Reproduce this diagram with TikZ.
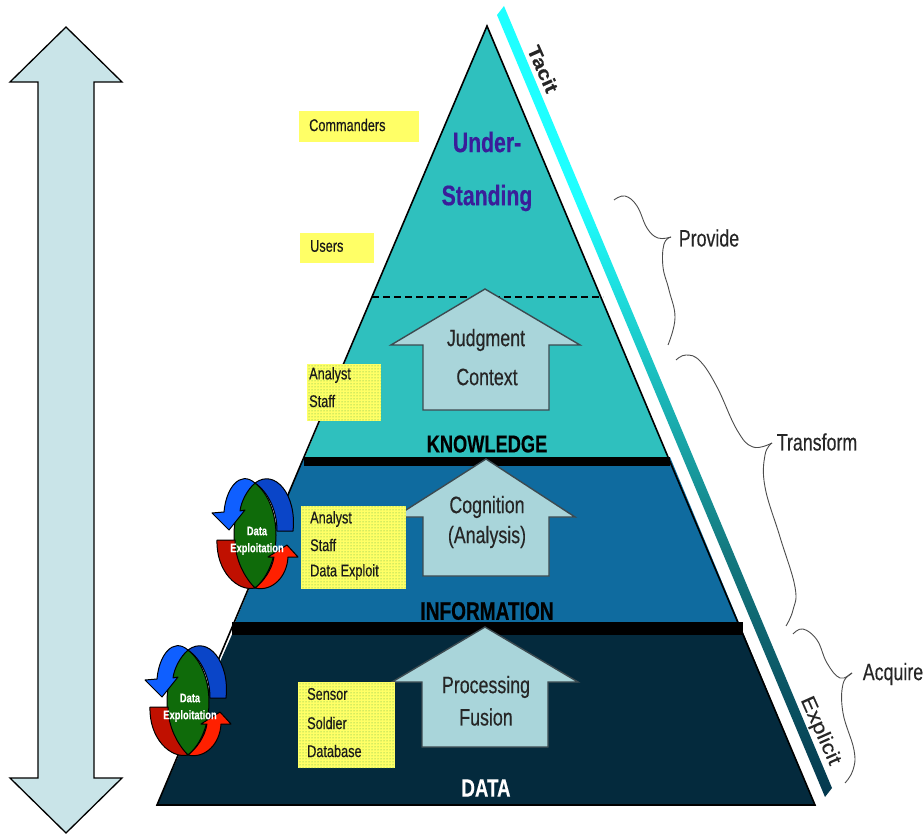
\documentclass[tikz,border=0pt]{standalone}
\usepackage{fontspec}
\setmainfont[FakeStretch=0.75,FakeBold=0.35]{Liberation Sans}
\newfontfamily\widefont[FakeStretch=1.15,FakeBold=0.25]{Liberation Sans}
\usetikzlibrary{patterns}
\definecolor{topT}{HTML}{2FC0BE}
\definecolor{midB}{HTML}{0F6B9F}
\definecolor{botD}{HTML}{042A3D}
\definecolor{pale}{HTML}{C9E4E8}
\definecolor{arrowF}{HTML}{A9D5DA}
\definecolor{arrowL}{HTML}{3C4A50}
\definecolor{yel}{HTML}{FFFF66}
\definecolor{bandA}{HTML}{1FFFFF}
\definecolor{bandB}{HTML}{1CC8C8}
\definecolor{bandC}{HTML}{147A80}
\definecolor{bandD}{HTML}{04384E}
\definecolor{underC}{HTML}{3A1E9A}
\definecolor{blueL}{HTML}{0F5FFF}
\definecolor{blueD}{HTML}{0A45C8}
\definecolor{redL}{HTML}{C01000}
\definecolor{redR}{HTML}{FF2000}
\definecolor{greenE}{HTML}{0F6B0A}
\pgfdeclareverticalshading{bandshade}{100bp}{color(0bp)=(bandD); color(25bp)=(bandD); color(40.6bp)=(bandC); color(53.3bp)=(bandB); color(62.7bp)=(bandA); color(100bp)=(bandA)}
\newcommand{\fs}[1]{\fontsize{\the\dimexpr #1pt*113/100\relax}{\the\dimexpr #1pt*113/100\relax}\selectfont}
\newcommand{\fw}[1]{\fontsize{#1}{#1}\selectfont}
\tikzset{
  blockarrow/.style={fill=arrowF,draw=arrowL,line width=1.4pt,line join=miter},
  lab/.style={inner sep=0pt,text=black!85},
  leftlab/.style={inner sep=0pt,anchor=west,text=black!90,font=\fs{15}},
  brace/.style={draw=black!70,line width=0.9pt},
  iconline/.style={draw=black,line width=1pt,line join=round},
}
\newcommand{\dotsbox}[4]{%
  \fill[yel] (#1,#2) rectangle (#3,#4);
  \fill[pattern=dots,pattern color=green!55!black!70] (#1,#2) rectangle (#3,#4);
}
\newcommand{\exicon}[1]{%
\begin{scope}[shift={#1}]
  \path[iconline,fill=greenE] (255,483) .. controls (227,505) and (227,565) .. (255,588)
     .. controls (283,565) and (283,505) .. (255,483) -- cycle;
  % blue arrow
  \path[iconline,fill=blueD] (255,483) .. controls (275,468) and (297,495) .. (293,531) -- (277,531)
     .. controls (277,510) and (268,492) .. (255,483) -- cycle;
  \path[iconline,fill=blueL] (255,483) .. controls (240,470) and (226,488) .. (224,512) -- (212,513) -- (229,530) -- (245,510) -- (240,511)
     .. controls (241,502) and (247,490) .. (255,483) -- cycle;
  % red arrow
  \path[iconline,fill=redL] (217,540) .. controls (216,572) and (238,592) .. (255,588)
     .. controls (245,578) and (235,560) .. (235,540) -- cycle;
  \path[iconline,fill=redR] (255,588) .. controls (272,592) and (287,577) .. (288,557) -- (298,557) -- (287,545) -- (268,557) -- (274,557)
     .. controls (272,570) and (263,582) .. (255,588) -- cycle;
  \node[inner sep=0pt,text=white,font=\fs{11}\bfseries] (data) at (257,531) {Data};
  \node[inner sep=0pt,text=white,font=\fs{11}\bfseries] (expl) at (257,549) {Exploitation};
\end{scope}}
\begin{document}
\begin{tikzpicture}[x=1pt,y=-1pt]
\useasboundingbox (0,0) rectangle (924,834);
% side double arrow
\path[fill=pale,draw=black,line width=1.3pt,line join=miter]
  (66,27) -- (122,82) -- (94,82) -- (94,778) -- (122,778) -- (66,833) -- (10,778) -- (38,778) -- (38,82) -- (10,82) -- cycle;
% gradient band
\path[shading=bandshade] (504,6) -- (832,788) -- (825,797) -- (497,15) -- cycle;
% pyramid
\fill[topT] (487,26) -- (668,457) -- (305,457) -- cycle;
\fill[midB] (304,457) -- (670,457) -- (742,630) -- (232,630) -- cycle;
\fill[botD] (234,630) -- (742,630) -- (815,805) -- (157,805) -- cycle;
\draw[line width=1.6pt,line join=miter] (304,457) -- (487,26) -- (668,457);
\draw[line width=1.6pt] (668,457) -- (815,805) -- (157,805) -- (304,457);
\fill[black] (304,457) rectangle (670,466);
\fill[black] (232,622) rectangle (743,635);
\draw[black,line width=1.4pt,dash pattern=on 7pt off 4pt] (372,297) -- (603,297);
% block arrows
\path[blockarrow] (485,289) -- (580,345) -- (549,345) -- (549,410) -- (423,410) -- (423,345) -- (391,345) -- cycle;
\path[blockarrow] (486,459) -- (575,517) -- (549,517) -- (549,576) -- (423,576) -- (423,517) -- (395,517) -- cycle;
\path[blockarrow] (485,627) -- (578,682) -- (548,682) -- (548,747) -- (422,747) -- (422,682) -- (392,682) -- cycle;
% arrow labels
\node[lab,font=\fs{21}] (judg) at (486,340) {Judgment};
\node[lab,font=\fs{21}] (ctx) at (487,377) {Context};
\node[lab,font=\fs{21}] (cog) at (487,507) {Cognition};
\node[lab,font=\fs{21}] (ana) at (487,537) {(Analysis)};
\node[lab,font=\fs{21}] (proc) at (486,687) {Processing};
\node[lab,font=\fs{21}] (fus) at (486,717) {Fusion};
% title labels
\node[inner sep=0pt,text=underC,font=\fs{25}\bfseries] (und1) at (487,142) {Under-};
\node[inner sep=0pt,text=underC,font=\fs{25}\bfseries] (und2) at (487,198) {Standing};
\node[inner sep=0pt,text=black,font=\fs{21.5}\bfseries] (know) at (487,444) {KNOWLEDGE};
\node[inner sep=0pt,text=black,font=\fs{22.5}\bfseries] (info) at (487,611) {INFORMATION};
\node[inner sep=0pt,text=white,font=\fs{22}\bfseries] (dat) at (486,788) {DATA};
% yellow boxes
\fill[yel] (299,111) rectangle (419,142);
\fill[yel] (300,233) rectangle (374,263);
\dotsbox{307}{364}{381}{421}
\dotsbox{301}{506}{406}{589}
\dotsbox{298}{682}{395}{768}
\node[leftlab] (cmd) at (309,125) {Commanders};
\node[leftlab] (usr) at (310,246) {Users};
\node[leftlab] (an1) at (309,375) {Analyst};
\node[leftlab] (st1) at (309,401) {Staff};
\node[leftlab] (an2) at (310,519) {Analyst};
\node[leftlab] (st2) at (310,545) {Staff};
\node[leftlab] (de2) at (310,572) {Data Exploit};
\node[leftlab] (se3) at (307,694) {Sensor};
\node[leftlab] (so3) at (307,723) {Soldier};
\node[leftlab] (db3) at (307,751) {Database};
% icons
\exicon{(0,0)}
\exicon{(-67,167)}
% braces
\draw[brace] plot[smooth,tension=0.7] coordinates {(614,200) (625,196) (637,206) (647,228) (658,238) (671,237)};
\draw[brace] plot[smooth,tension=0.7] coordinates {(671,237) (664,244) (663,267) (669,290) (675,318) (668,345)};
\draw[brace] plot[smooth,tension=0.7] coordinates {(676,360) (686,355) (700,361) (717,387) (737,430) (753,447) (772,443)};
\draw[brace] plot[smooth,tension=0.7] coordinates {(772,443) (765,455) (765,487) (780,537) (795,587) (793,610) (786,626)};
\draw[brace] plot[smooth,tension=0.7] coordinates {(793,634) (803,629) (817,640) (827,663) (840,678) (852,673)};
\draw[brace] plot[smooth,tension=0.7] coordinates {(852,673) (843,684) (843,713) (854,750) (853,770) (845,783)};
% right labels
\node[lab,font=\fs{21}] (prov) at (709,238) {Provide};
\node[lab,font=\fs{21}] (trans) at (817,442) {Transform};
\node[lab,font=\fs{21}] (acq) at (893,674) {Acquire};
\node[lab,font=\widefont\fw{19}\bfseries,rotate=-66] (tac) at (543,69) {Tacit};
\node[lab,font=\widefont\fw{20},rotate=-66] (exp) at (820,731) {Explicit};
\end{tikzpicture}
\end{document}
